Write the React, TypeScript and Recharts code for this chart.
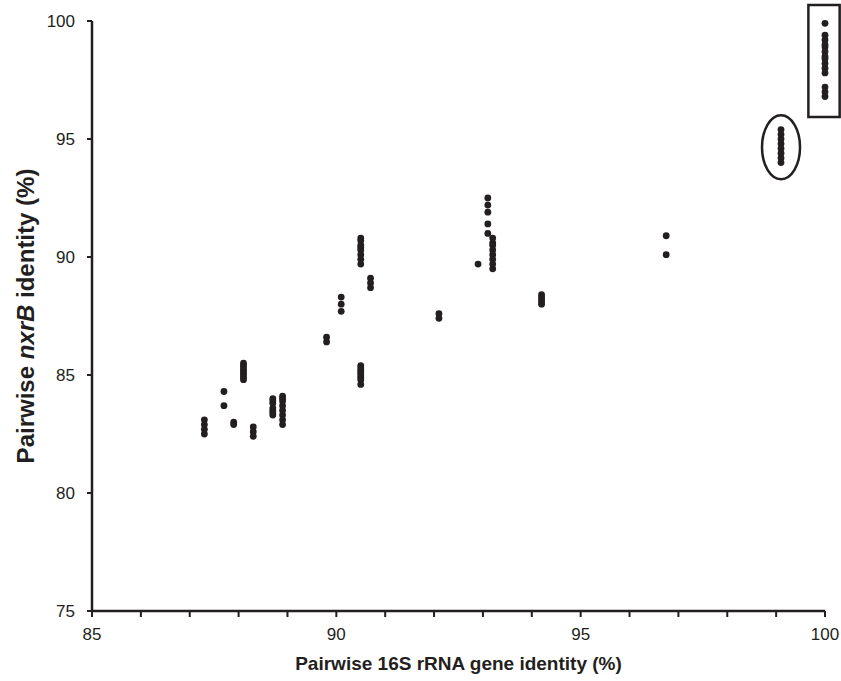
import React from 'react';
import { ScatterChart, Scatter, XAxis, YAxis, ReferenceArea, ReferenceDot, Label } from 'recharts';

// Pairwise 16S rRNA gene identity (%) for each point
const identity16S = [
  87.3, 87.3, 87.3, 87.3,
  87.7, 87.7,
  87.9, 87.9,
  88.3, 88.3, 88.3,
  88.1, 88.1, 88.1, 88.1, 88.1, 88.1, 88.1, 88.1,
  88.7, 88.7, 88.7, 88.7, 88.7, 88.7, 88.7,
  88.9, 88.9, 88.9, 88.9, 88.9, 88.9, 88.9, 88.9,
  89.8, 89.8,
  90.1, 90.1, 90.1,
  90.5, 90.5, 90.5, 90.5, 90.5, 90.5, 90.5, 90.5,
  90.5, 90.5, 90.5, 90.5, 90.5, 90.5, 90.5, 90.5,
  90.7, 90.7, 90.7,
  92.1, 92.1,
  92.9,
  93.1, 93.1, 93.1, 93.1, 93.1,
  93.2, 93.2, 93.2, 93.2, 93.2, 93.2, 93.2, 93.2,
  94.2, 94.2, 94.2, 94.2, 94.2,
  96.75, 96.75,
  99.1, 99.1, 99.1, 99.1, 99.1, 99.1, 99.1, 99.1,
  100, 100, 100, 100, 100, 100, 100, 100, 100, 100, 100, 100, 100, 100,
];

// Pairwise nxrB identity (%) for each point
const identityNxrB = [
  83.1, 82.9, 82.7, 82.5,
  84.3, 83.7,
  83.0, 82.9,
  82.8, 82.6, 82.4,
  85.5, 85.4, 85.3, 85.2, 85.1, 85.0, 84.9, 84.8,
  84.0, 83.9, 83.8, 83.6, 83.5, 83.4, 83.3,
  84.1, 84.0, 83.9, 83.7, 83.5, 83.3, 83.1, 82.9,
  86.6, 86.4,
  88.3, 88.0, 87.7,
  90.8, 90.7, 90.5, 90.4, 90.3, 90.1, 89.9, 89.7,
  85.4, 85.3, 85.2, 85.1, 85.0, 84.9, 84.8, 84.6,
  89.1, 88.9, 88.7,
  87.6, 87.4,
  89.7,
  92.5, 92.2, 91.9, 91.4, 91.0,
  90.8, 90.6, 90.5, 90.3, 90.1, 89.9, 89.7, 89.5,
  88.4, 88.3, 88.2, 88.1, 88.0,
  90.9, 90.1,
  95.4, 95.2, 95.0, 94.8, 94.6, 94.4, 94.2, 94.0,
  99.9, 99.4, 99.2, 99.0, 98.9, 98.7, 98.5, 98.4, 98.2, 98.0, 97.8, 97.2, 97.0, 96.8,
];

const xTicks = [85, 86, 87, 88, 89, 90, 91, 92, 93, 94, 95, 96, 97, 98, 99, 100];
const yTicks = [75, 80, 85, 90, 95, 100];

// Annotation boxes (data units)
const boxX = [99.66, 100.3];
const boxY = [95.93, 100.68];
const ellipseCenter = { x: 99.1, y: 94.65 };

const data = identity16S.map((x, i) => ({ x, y: identityNxrB[i] }));

const INK = '#231f20';
const FONT = '"Liberation Sans", Arial, sans-serif';

const Dot = (p: any) => <circle cx={p.cx} cy={p.cy} r={3.4} fill={INK} />;

const YTitle = (props: any) => {
  const vb = props.viewBox;
  const cx = 25;
  const cy = vb.y + vb.height / 2;
  return (
    <text
      x={cx}
      y={cy}
      transform={`rotate(-90, ${cx}, ${cy})`}
      textAnchor="middle"
      dominantBaseline="central"
      fontFamily={FONT}
      fontWeight="bold"
      fontSize={24}
      fill={INK}
    >
      Pairwise <tspan fontStyle="italic">nxrB</tspan> identity (%)
    </text>
  );
};

export default function App() {
  return (
    <div style={{ fontFamily: FONT, width: 841, height: 681, overflow: 'hidden' }}>
      <style>{'html,body{margin:0;padding:0;overflow:hidden;}'}</style>
      <ScatterChart
        width={841}
        height={681}
        margin={{ top: 21, right: 16, bottom: 0, left: 32 }}
        style={{ overflow: 'visible' }}
      >
        <XAxis
          type="number"
          dataKey="x"
          domain={[85, 100]}
          ticks={xTicks}
          interval={0}
          tickFormatter={(v: number) => (v % 5 === 0 ? String(v) : '')}
          axisLine={{ stroke: INK, strokeWidth: 2.5 }}
          tickLine={{ stroke: INK, strokeWidth: 2 }}
          tickSize={6}
          tickMargin={11}
          tick={{ fill: INK, fontSize: 17, fontFamily: FONT }}
          height={70}
        >
          <Label
            value="Pairwise 16S rRNA gene identity (%)"
            position="insideBottom"
            offset={11}
            style={{ fontFamily: FONT, fontWeight: 'bold', fontSize: 19, fill: INK }}
          />
        </XAxis>
        <YAxis
          type="number"
          dataKey="y"
          domain={[75, 100]}
          ticks={yTicks}
          interval={0}
          axisLine={{ stroke: INK, strokeWidth: 2.5 }}
          tickLine={{ stroke: INK, strokeWidth: 2 }}
          tickSize={5}
          tickMargin={12}
          tick={{ fill: INK, fontSize: 17, fontFamily: FONT }}
          width={60}
        >
          <Label content={YTitle} />
        </YAxis>
        <Scatter data={data} shape={Dot} isAnimationActive={false} />
        <ReferenceArea
          x1={boxX[0]}
          x2={boxX[1]}
          y1={boxY[0]}
          y2={boxY[1]}
          ifOverflow="visible"
          fill="none"
          fillOpacity={0}
          stroke={INK}
          strokeWidth={2.5}
        />
        <ReferenceDot
          x={ellipseCenter.x}
          y={ellipseCenter.y}
          ifOverflow="visible"
          shape={(p: any) => (
            <ellipse cx={p.cx} cy={p.cy} rx={19} ry={32} fill="none" stroke={INK} strokeWidth={2.5} />
          )}
        />
      </ScatterChart>
    </div>
  );
}
